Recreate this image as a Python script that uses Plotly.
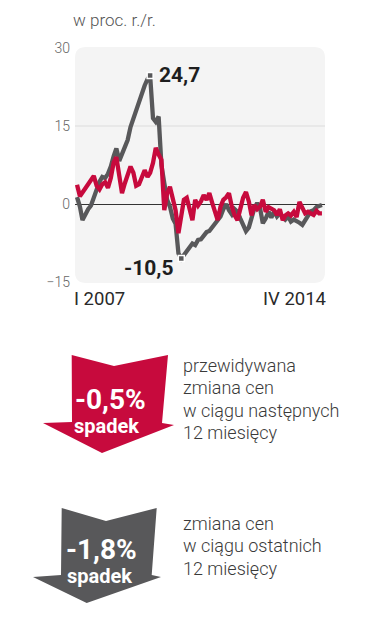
import numpy as np
import pandas as pd
import plotly.graph_objects as go

# ---- data ----
months = pd.date_range("2007-01-01", "2014-04-01", freq="MS")
gray_vals = [1.3, -0.5, -3.1, -1.8, -1.0, -0.3, 1.2, 3.2, 4.3, 5.2,
             5.0, 5.8, 7.2, 9.2, 10.7, 8.3, 9.8, 11.0, 12.3, 14.8,
             16.5, 17.8, 19.5, 21.0, 22.8, 24.0, 24.7, 16.5, 15.8, 16.8,
             7.5, 4.0, 0.8, -0.5, -2.8, -3.8, -9.5, -10.5, -9.8, -9.2,
             -8.6, -7.6, -7.9, -6.9, -6.8, -6.0, -5.4, -5.2, -4.5, -3.8,
             -3.0, -2.4, -1.0, 0.0, -1.2, -2.0, -1.0, -1.5, -2.8, -4.2,
             -5.2, -4.5, -2.8, -0.8, 0.2, -0.8, -3.7, -2.8, -1.5, -2.6,
             -1.4, -2.4, -1.8, -2.6, -3.0, -2.4, -3.4, -3.0, -3.2, -3.6,
             -4.0, -3.0, -2.2, -1.4, -1.2, -0.6, -0.4, -0.2]
red_vals = [3.7, 1.5, 2.2, 3.0, 4.0, 4.8, 5.4, 3.5, 2.8, 3.8,
            4.2, 3.1, 5.0, 8.0, 9.0, 5.5, 2.1, 4.0, 5.8, 7.2,
            6.0, 3.5, 3.8, 5.2, 6.5, 5.2, 6.0, 7.9, 10.8, 9.5,
            8.5, -1.2, 2.1, 3.3, 0.8, -1.2, -5.6, -2.5, 0.8, 1.2,
            -1.0, -3.1, 0.8, -0.3, 0.5, 1.7, 0.8, 2.1, 0.2, -1.5,
            -3.1, -0.5, 0.8, 1.3, 2.1, -0.5, -2.2, -3.1, -0.5, 1.2,
            2.3, 0.5, -2.2, -0.2, -1.0, -0.5, 0.8, -1.5, -0.6, -0.8,
            -1.2, -2.1, -1.0, -3.1, -2.2, -1.8, -2.2, -1.5, -2.5, 0.4,
            -0.8, -1.8, -1.5, -1.8, -2.1, -1.3, -1.8, -1.8]
y_ticks = [-15, 0, 15, 30]
x_label_start = "I 2007"
x_label_end = "IV 2014"
unit_label = "w proc. r./r."
forecast_value = "-0,5%"
past_value = "-1,8%"
arrow_word = "spadek"
forecast_lines = ["przewidywana", "zmiana cen", "w ciągu następnych", "12 miesięcy"]
past_lines = ["zmiana cen", "w ciągu ostatnich", "12 miesięcy"]

RED = "#c70a3d"
GRAY = "#58585a"
FONT = "Roboto"

# page offset (default body margin of the html page)
OFF = 8
W, H = 372 - OFF, 640 - OFF
L, T = 75 - OFF, 48 - OFF
R, B = 372 - 325, 640 - 282
PW, PH = W - L - R, H - T - B


def px(x):
    return (x - OFF - L) / PW


def py(y):
    return (T + PH - (y - OFF)) / PH


def path(points):
    return "M " + " L ".join(f"{px(a):.4f},{py(b):.4f}" for a, b in points) + " Z"


fig = go.Figure()

fig.add_trace(go.Scatter(x=months, y=gray_vals, mode="lines",
                         line=dict(color=GRAY, width=4.3), hoverinfo="skip"))
fig.add_trace(go.Scatter(x=months, y=red_vals, mode="lines",
                         line=dict(color=RED, width=4.3), hoverinfo="skip"))

g = np.array(gray_vals)
imax, imin = int(g.argmax()), int(g.argmin())
fig.add_trace(go.Scatter(x=[months[imax], months[imin]], y=[g[imax], g[imin]],
                         mode="markers",
                         marker=dict(symbol="square", size=6, color=GRAY,
                                     line=dict(color="white", width=1.5)),
                         hoverinfo="skip"))


def fmt(v):
    return f"{v:.1f}".replace(".", ",")


fig.add_annotation(x=months[imax], y=g[imax], text=f"<b>{fmt(g[imax])}</b>",
                   showarrow=False, xanchor="left", yanchor="middle", xshift=7, yshift=1,
                   font=dict(family=FONT, size=21, color="#1e1e1e"))
fig.add_annotation(x=months[imin], y=g[imin], text=f"<b>{fmt(g[imin])}</b>",
                   showarrow=False, xanchor="right", yanchor="middle", xshift=-5, yshift=-9,
                   font=dict(family=FONT, size=21, color="#1e1e1e"))

# background panel
x0, x1, y0, y1, r = 75, 325, 47, 283, 11
bg = (f"M {px(x0 + r)},{py(y0)} L {px(x1 - r)},{py(y0)} "
      f"Q {px(x1)},{py(y0)} {px(x1)},{py(y0 + r)} L {px(x1)},{py(y1 - r)} "
      f"Q {px(x1)},{py(y1)} {px(x1 - r)},{py(y1)} L {px(x0 + r)},{py(y1)} "
      f"Q {px(x0)},{py(y1)} {px(x0)},{py(y1 - r)} L {px(x0)},{py(y0 + r)} "
      f"Q {px(x0)},{py(y0)} {px(x0 + r)},{py(y0)} Z")
fig.add_shape(type="path", path=bg, xref="paper", yref="paper",
              fillcolor="#f4f4f4", line=dict(width=0), layer="below")
fig.add_shape(type="line", xref="paper", yref="y", x0=0, x1=1, y0=15, y1=15,
              line=dict(color="#dcdcdc", width=1), layer="below")

# x labels
fig.add_annotation(x=months[0], y=py(299), yref="paper", text=x_label_start,
                   showarrow=False, xanchor="left", yanchor="middle", xshift=-5,
                   font=dict(family=FONT, size=18.5, color="#2a2a2a"))
fig.add_annotation(x=months[-1], y=py(299), yref="paper", text=x_label_end,
                   showarrow=False, xanchor="right", yanchor="middle", xshift=6,
                   font=dict(family=FONT, size=18.5, color="#2a2a2a"))
fig.add_annotation(x=px(71), y=py(8), xref="paper", yref="paper", text=unit_label,
                   showarrow=False, xanchor="left", yanchor="top",
                   font=dict(family=FONT, size=17, color="#555555", weight=300))

# arrows
red_arrow = [(71.7, 355), (114, 366), (168, 355), (162, 423), (174, 425),
             (102, 453), (43, 423), (72, 422)]
gray_arrow = [(61.7, 508), (106, 521), (156.7, 508), (151.7, 575), (161, 577),
              (86.7, 603), (33, 577), (61, 575)]
fig.add_shape(type="path", path=path(red_arrow), xref="paper", yref="paper",
              fillcolor=RED, line=dict(width=0))
fig.add_shape(type="path", path=path(gray_arrow), xref="paper", yref="paper",
              fillcolor=GRAY, line=dict(width=0))

for txt, cx, cy, size in [(forecast_value, 110, 399, 28), (arrow_word, 106, 426, 20),
                          (past_value, 101.7, 549, 28), (arrow_word, 99, 576, 20)]:
    fig.add_annotation(x=px(cx), y=py(cy), xref="paper", yref="paper",
                       text=f"<b>{txt}</b>", showarrow=False,
                       xanchor="center", yanchor="middle",
                       font=dict(family=FONT, size=size, color="white"))

for i, line in enumerate(forecast_lines):
    fig.add_annotation(x=px(181), y=py(365 + 22.5 * i), xref="paper", yref="paper",
                       text=line, showarrow=False, xanchor="left", yanchor="middle",
                       font=dict(family=FONT, size=18, color="#3a3a3a", weight=300))
for i, line in enumerate(past_lines):
    fig.add_annotation(x=px(181), y=py(523 + 22.5 * i), xref="paper", yref="paper",
                       text=line, showarrow=False, xanchor="left", yanchor="middle",
                       font=dict(family=FONT, size=18, color="#3a3a3a", weight=300))

fig.update_layout(
    width=W, height=H, margin=dict(l=L, r=R, t=T, b=B),
    paper_bgcolor="white", plot_bgcolor="rgba(0,0,0,0)",
    showlegend=False,
    xaxis=dict(range=["2006-12-10", "2014-05-04"], showgrid=False, zeroline=False,
               showticklabels=False, showline=False, ticks=""),
    yaxis=dict(range=[-15, 30], tickvals=y_ticks, showgrid=False,
               zeroline=True, zerolinecolor="#333333", zerolinewidth=1.2,
               tickfont=dict(family=FONT, size=14, color="#666666", weight=300),
               ticks="", ticklabelstandoff=4, showline=False),
)

fig.write_html("out.html")
